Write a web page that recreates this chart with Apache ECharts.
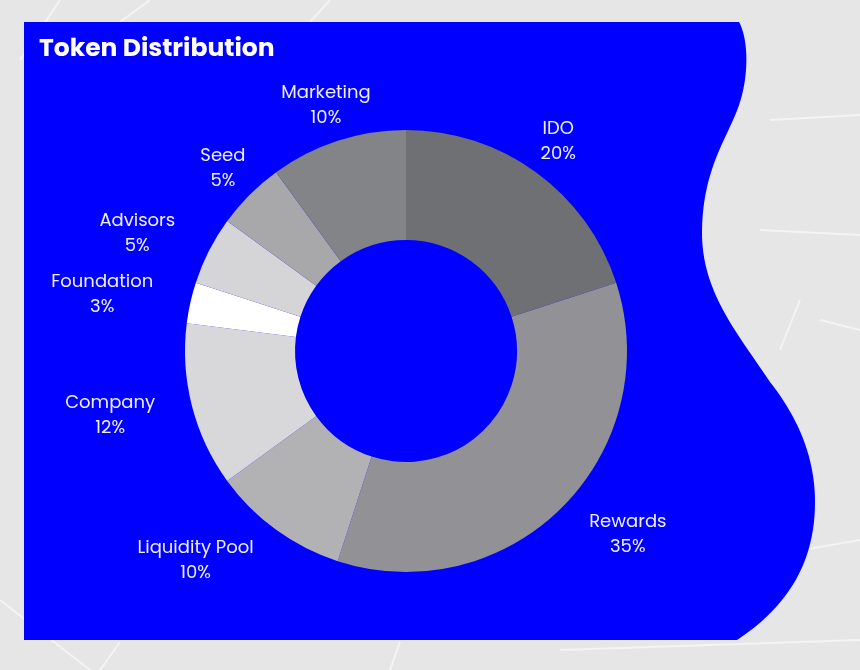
<!DOCTYPE html>
<html>
<head>
<meta charset="utf-8">
<title>Token Distribution</title>
<style type="text/css">
    html, body {
        margin: 0;
        padding: 0;
        background: #e6e6e7;
    }
    #main {
        width: 860px;
        height: 670px;
    }
</style>
<script type="text/javascript" src="https://cdn.jsdelivr.net/npm/echarts@6/dist/echarts.min.js"></script>
</head>
<body>
<div id="main"></div>
<script type="text/javascript">
    // data
    var names = ['IDO', 'Rewards', 'Liquidity Pool', 'Company', 'Foundation', 'Advisors', 'Seed', 'Marketing'];
    var shares = [20, 35, 10, 12, 3, 5, 5, 10];
    var greys = ['#6f7074', '#929195', '#b2b2b5', '#d8d8da', '#ffffff', '#d5d5d7', '#a8a8aa', '#838487'];

    var CX = 406, CY = 351;
    var FONT = 'Poppins, Inter, sans-serif';

    var pieData = names.map(function (n, i) {
        return { name: n, value: shares[i], itemStyle: { color: greys[i] } };
    });

    // wavy right edge of the blue card (bezier segments, sampled into a polygon)
    var edge = [
        [[739, 22], [748, 38], [750, 75], [738, 108]],
        [[738, 108], [726, 140], [703, 170], [702, 230]],
        [[702, 230], [701, 290], [735, 330], [770, 382]],
        [[770, 382], [800, 420], [815, 460], [815, 502]],
        [[815, 502], [815, 560], [790, 605], [737, 640]]
    ];
    var cardPts = [[24, 22]];
    edge.forEach(function (s) {
        for (var k = 0; k <= 24; k++) {
            var t = k / 24, u = 1 - t;
            cardPts.push([
                u * u * u * s[0][0] + 3 * u * u * t * s[1][0] + 3 * u * t * t * s[2][0] + t * t * t * s[3][0],
                u * u * u * s[0][1] + 3 * u * u * t * s[1][1] + 3 * u * t * t * s[2][1] + t * t * t * s[3][1]
            ]);
        }
    });
    cardPts.push([24, 640]);

    // faint lines of the photo behind the card
    var bgLines = [
        [[60, 0], [20, 60]], [[150, 0], [120, 22]], [[330, 0], [310, 22]],
        [[0, 600], [90, 670]], [[120, 642], [100, 670]], [[400, 642], [390, 670]],
        [[560, 650], [860, 640]], [[770, 120], [860, 115]], [[760, 230], [860, 235]],
        [[800, 300], [780, 350]], [[820, 320], [860, 330]], [[745, 560], [860, 540]]
    ];

    var myChart = echarts.init(document.getElementById('main'));

    myChart.setOption({
        backgroundColor: '#e6e6e7',
        animation: false,
        title: {
            text: 'Token Distribution',
            left: 34,
            top: 32,
            textStyle: {
                color: '#ffffff',
                fontFamily: FONT,
                fontSize: 25,
                fontWeight: 'bold'
            }
        },
        graphic: bgLines.map(function (l) {
            return {
                type: 'line',
                z: -20,
                shape: { x1: l[0][0], y1: l[0][1], x2: l[1][0], y2: l[1][1] },
                style: { stroke: 'rgba(255,255,255,0.55)', lineWidth: 2 }
            };
        }).concat([{
            type: 'polygon',
            z: -10,
            shape: { points: cardPts },
            style: { fill: '#0000ff' }
        }]),
        series: [
            {
                name: 'Token Distribution',
                type: 'pie',
                center: [CX, CY],
                radius: [111, 221],
                startAngle: 90,
                clockwise: true,
                avoidLabelOverlap: false,
                silent: true,
                label: {
                    show: true,
                    position: 'outside',
                    distanceToLabelLine: 0,
                    padding: [1, 0, 0, 0],
                    formatter: '{c|{b}}\n{c|{c}%}',
                    rich: {
                        c: {
                            align: 'center',
                            color: '#eeeeff',
                            fontFamily: FONT,
                            fontSize: 18,
                            lineHeight: 25
                        }
                    }
                },
                labelLine: {
                    show: false,
                    length: 38,
                    length2: 0
                },
                // labels near the top sit centred over their anchor
                labelLayout: function (p) {
                    var r = p.labelRect;
                    var ax = (r.x + r.width / 2 > CX) ? r.x : r.x + r.width;
                    var ay = r.y + r.height / 2;
                    if (-(ay - CY) >= Math.abs(ax - CX) - 2) {
                        return { x: ax, y: ay, align: 'center', verticalAlign: 'middle' };
                    }
                    return {};
                },
                data: pieData
            }
        ]
    });
</script>
</body>
</html>
